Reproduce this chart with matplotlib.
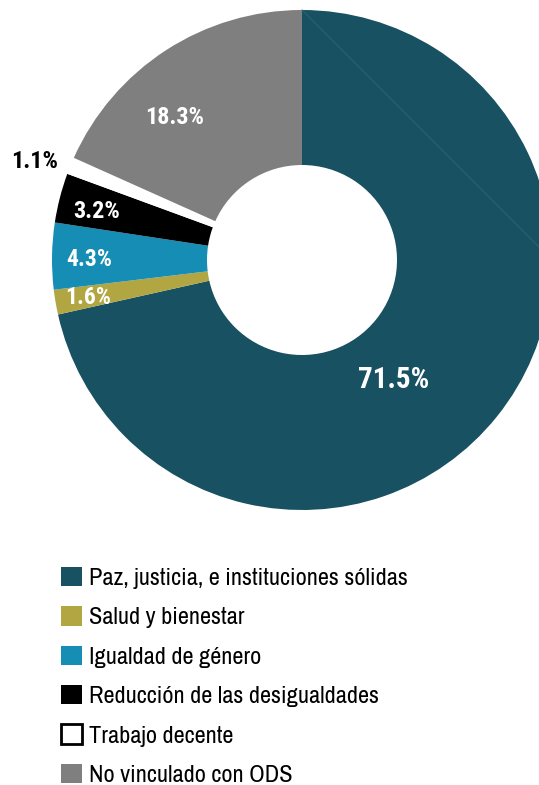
import matplotlib
matplotlib.use('Agg')
import matplotlib.pyplot as plt
from matplotlib.patches import Patch

# ------------------------------------------------------------- data
categorias = ['Paz, justicia, e instituciones sólidas', 'Salud y bienestar',
              'Igualdad de género', 'Reducción de las desigualdades',
              'Trabajo decente', 'No vinculado con ODS']
porcentajes = [71.5, 1.6, 4.3, 3.2, 1.1, 18.3]
colores = ['#175162', '#b1a641', '#168db5', '#000000', '#ffffff', '#7f7f7f']
color_etiqueta = ['white', 'white', 'white', 'white', 'black', 'white']

plt.rcParams['font.family'] = ['Roboto Condensed', 'DejaVu Sans']

W, H = 539, 785
fig = plt.figure(figsize=(W / 100, H / 100), dpi=100)
ax = fig.add_axes([0, 0, 1, 1])

R = 250
wedges, _ = ax.pie(porcentajes, colors=colores, radius=R, startangle=90,
                   counterclock=False, wedgeprops=dict(width=R - 95, linewidth=0))
# faint seam line seen inside the big wedge
ax.plot([0, R], [R, 0], color='#2c6676', lw=0.7)

# pixel-like coordinates, donut centre at (302, 260) px
cx, cy = 302, 260
ax.set_xlim(-cx, W - cx)
ax.set_ylim(cy - H, cy)
ax.set_aspect('equal')
ax.axis('off')

#------------------------------------------------------------ labels
pos = [(92, -120), (-214, -38), (-213, 1), (-205, 49), (-267, 98), (-127, 143)]
tam = [21, 17, 17, 17.5, 17.5, 17.5]
for p, (x, y), c, s in zip(porcentajes, pos, color_etiqueta, tam):
    ax.text(x, y, f'{p}%', ha='center', va='center', color=c,
            fontsize=s, fontweight='bold')

#------------------------------------------------------------ legend
handles = [Patch(facecolor=c, edgecolor='black' if c == '#ffffff' else c,
                 linewidth=2 if c == '#ffffff' else 0) for c in colores]
ax.legend(handles, categorias, loc='upper left', bbox_to_anchor=(61 / W, 1 - 567 / H),
          frameon=False, prop={'family': ['Archivo Narrow', 'Roboto Condensed'], 'size': 17.5},
          handlelength=0.85, handleheight=0.85,
          handletextpad=0.3, labelspacing=0.71, borderaxespad=0, borderpad=0)

fig.savefig('out.png', dpi=100)
